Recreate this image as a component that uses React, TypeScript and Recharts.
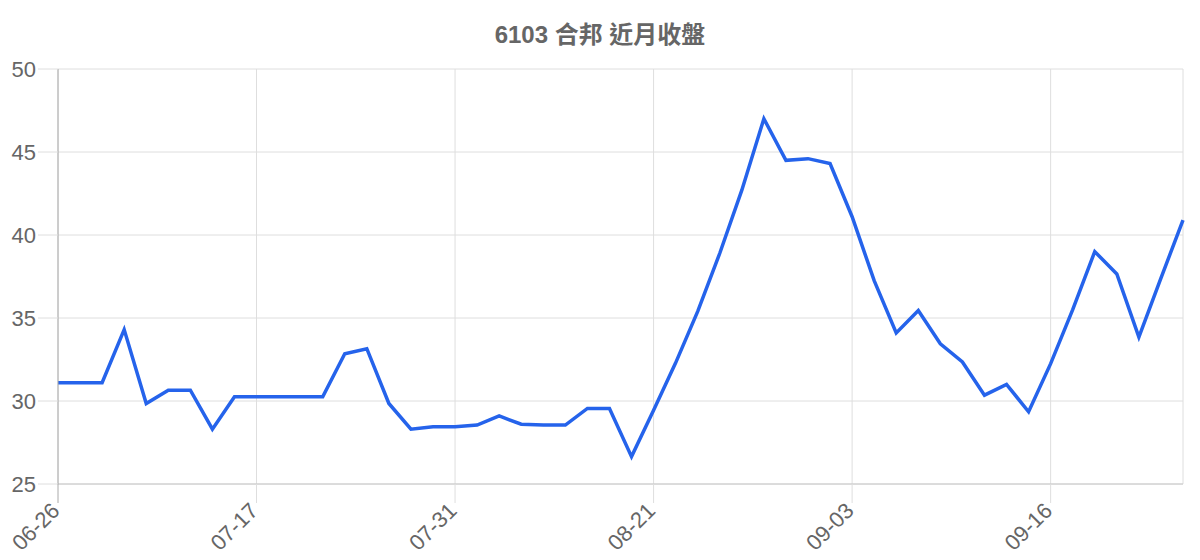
import React from "react";
import { LineChart, Line, XAxis, YAxis, CartesianGrid } from "recharts";

const dates = [
  "06-26", "06-28", "07-01", "07-03", "07-05", "07-08", "07-10", "07-12", "07-15",
  "07-17", "07-18", "07-19", "07-22", "07-23", "07-25", "07-26", "07-29", "07-30",
  "07-31", "08-02", "08-05", "08-07", "08-09", "08-12", "08-14", "08-16", "08-19",
  "08-21", "08-22", "08-23", "08-26", "08-27", "08-28", "08-29", "08-30", "09-02",
  "09-03", "09-04", "09-05", "09-06", "09-09", "09-10", "09-11", "09-12", "09-13",
  "09-16", "09-18", "09-19", "09-20", "09-23", "09-24", "09-25",
];

const closes = [
  31.1, 31.1, 31.1, 34.3, 29.85, 30.65, 30.65, 28.3, 30.25,
  30.25, 30.25, 30.25, 30.25, 32.85, 33.15, 29.85, 28.3, 28.45,
  28.45, 28.55, 29.1, 28.6, 28.55, 28.55, 29.55, 29.55, 26.65,
  29.45, 32.3, 35.4, 38.9, 42.7, 47.0, 44.5, 44.6, 44.3,
  41.1, 37.25, 34.1, 35.45, 33.45, 32.35, 30.35, 31.0, 29.35,
  32.25, 35.5, 39.0, 37.65, 33.85, 37.4, 40.9,
];

const yTicks = [25, 30, 35, 40, 45, 50];
const title = "6103 合邦 近月收盤";

const data = dates.map((d, i) => ({ date: d, close: closes[i] }));

const FONT = "'Liberation Sans', Arial, 'Noto Sans CJK TC', sans-serif";

const XTick = (props: any) => {
  const { x, y, payload, index } = props;
  const axisY = y - 19;
  const ax = x + 3;
  const ay = y + 9;
  return (
    <g>
      <line x1={x} y1={axisY} x2={x} y2={y} stroke={index === 0 ? "#aaa" : "#dedede"} strokeWidth={1} />
      <text
        x={ax}
        y={ay}
        transform={`rotate(-45, ${ax}, ${ay})`}
        textAnchor="end"
        fill="#666"
        fontSize={22}
        fontFamily={FONT}
      >
        {payload.value}
      </text>
    </g>
  );
};

export default function App() {
  return (
    <div style={{ position: "absolute", left: 0, top: 0, width: 1200, height: 560, background: "#fff" }}>
      <div
        style={{
          position: "absolute",
          top: 23,
          left: 0,
          width: 1200,
          textAlign: "center",
          fontFamily: FONT,
          fontWeight: "bold",
          fontSize: 24,
          lineHeight: "24px",
          color: "#666",
        }}
      >
        {title}
      </div>
      <LineChart
        width={1200}
        height={560}
        data={data}
        margin={{ top: 69, right: 17, bottom: 0, left: 0 }}
      >
        <CartesianGrid stroke="#dedede" strokeWidth={1} />
        <XAxis
          dataKey="date"
          interval={8}
          height={76}
          tickSize={19}
          tickMargin={0}
          tickLine={false}
          axisLine={{ stroke: "#c8c8c8" }}
          tick={<XTick />}
          padding={{ left: 0, right: 0 }}
        />
        <YAxis
          domain={[25, 50]}
          ticks={yTicks}
          width={58}
          tickSize={20}
          tickMargin={2}
          tickLine={{ stroke: "#dedede" }}
          axisLine={{ stroke: "#aaaaaa" }}
          tick={{ fill: "#666", fontSize: 22, fontFamily: FONT }}
        />
        <Line
          type="linear"
          dataKey="close"
          stroke="#2563eb"
          strokeWidth={3.5}
          dot={false}
          isAnimationActive={false}
        />
      </LineChart>
    </div>
  );
}
